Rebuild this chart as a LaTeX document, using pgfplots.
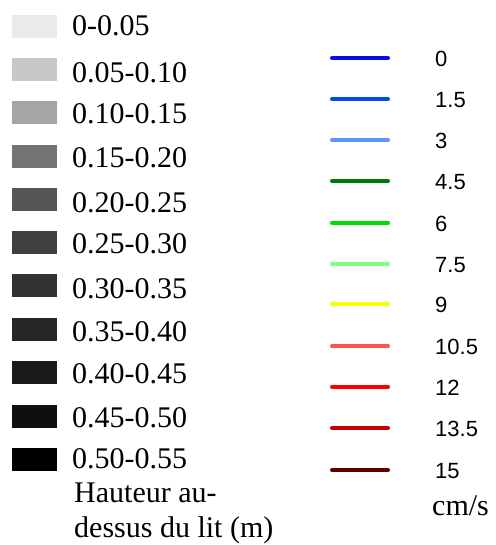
\documentclass[border=0pt]{standalone}
\usepackage{pgfplots}
\pgfplotsset{compat=1.18}
\usepackage{fontspec}
\setmainfont{Liberation Serif}
\newfontfamily\arial{Liberation Sans}
\definecolor{g1}{RGB}{234,234,234}
\definecolor{g2}{RGB}{200,200,200}
\definecolor{g3}{RGB}{165,165,165}
\definecolor{g4}{RGB}{115,115,115}
\definecolor{g5}{RGB}{85,85,85}
\definecolor{g6}{RGB}{64,64,64}
\definecolor{g7}{RGB}{50,50,50}
\definecolor{g8}{RGB}{38,38,38}
\definecolor{g9}{RGB}{26,26,26}
\definecolor{g10}{RGB}{15,15,15}
\definecolor{g11}{RGB}{0,0,0}
\definecolor{c0}{RGB}{10,10,235}
\definecolor{c1}{RGB}{0,76,220}
\definecolor{c2}{RGB}{90,150,255}
\definecolor{c3}{RGB}{0,120,0}
\definecolor{c4}{RGB}{0,220,0}
\definecolor{c5}{RGB}{128,255,128}
\definecolor{c6}{RGB}{255,255,0}
\definecolor{c7}{RGB}{255,80,80}
\definecolor{c8}{RGB}{255,0,0}
\definecolor{c9}{RGB}{190,0,0}
\definecolor{c10}{RGB}{90,0,0}
\begin{document}
\begin{tikzpicture}
\begin{axis}[
  width=495pt, height=545pt, scale only axis,
  xmin=0, xmax=495, ymin=0, ymax=545, y dir=reverse,
  hide axis, clip=false,
]
\path (rel axis cs:0,0) rectangle (rel axis cs:1,1);
% grey patches (depth classes)
\addplot[g1, line width=23pt, line cap=butt] coordinates {(12,26.5) (57,26.5)};
\addplot[g2, line width=23pt, line cap=butt] coordinates {(12,69.5) (57,69.5)};
\addplot[g3, line width=23pt, line cap=butt] coordinates {(12,113) (57,113)};
\addplot[g4, line width=23pt, line cap=butt] coordinates {(12,156.5) (57,156.5)};
\addplot[g5, line width=23pt, line cap=butt] coordinates {(12,199.5) (57,199.5)};
\addplot[g6, line width=23pt, line cap=butt] coordinates {(12,242) (57,242)};
\addplot[g7, line width=23pt, line cap=butt] coordinates {(12,285.5) (57,285.5)};
\addplot[g8, line width=23pt, line cap=butt] coordinates {(12,329.5) (57,329.5)};
\addplot[g9, line width=23pt, line cap=butt] coordinates {(12,372.5) (57,372.5)};
\addplot[g10, line width=23pt, line cap=butt] coordinates {(12,416) (57,416)};
\addplot[g11, line width=23pt, line cap=butt] coordinates {(12,459) (57,459)};
% velocity lines
\addplot[c0, line width=4pt, line cap=round] coordinates {(332,58.3) (388,58.3)};
\addplot[c1, line width=4pt, line cap=round] coordinates {(332,99) (388,99)};
\addplot[c2, line width=4pt, line cap=round] coordinates {(332,140.3) (388,140.3)};
\addplot[c3, line width=4pt, line cap=round] coordinates {(332,181) (388,181)};
\addplot[c4, line width=4pt, line cap=round] coordinates {(332,222.7) (388,222.7)};
\addplot[c5, line width=4pt, line cap=round] coordinates {(332,264) (388,264)};
\addplot[c6, line width=4pt, line cap=round] coordinates {(332,304.3) (388,304.3)};
\addplot[c7, line width=4pt, line cap=round] coordinates {(332,346.3) (388,346.3)};
\addplot[c8, line width=4pt, line cap=round] coordinates {(332,386.7) (388,386.7)};
\addplot[c9, line width=4pt, line cap=round] coordinates {(332,428) (388,428)};
\addplot[c10, line width=4pt, line cap=round] coordinates {(332,470) (388,470)};
% left labels
\begin{scope}[every node/.style={anchor=base west, inner sep=0pt, font=\fontsize{30}{35}\selectfont}]
\node at (axis cs:72,36) {0-0.05};
\node at (axis cs:72,83) {0.05-0.10};
\node at (axis cs:72,124) {0.10-0.15};
\node at (axis cs:72,168) {0.15-0.20};
\node at (axis cs:72,212) {0.20-0.25};
\node at (axis cs:72,253) {0.25-0.30};
\node at (axis cs:72,298) {0.30-0.35};
\node at (axis cs:72,341) {0.35-0.40};
\node at (axis cs:72,383) {0.40-0.45};
\node at (axis cs:72,427) {0.45-0.50};
\node at (axis cs:72,468) {0.50-0.55};
\node at (axis cs:74,502) {Hauteur au-};
\node at (axis cs:74,537) {dessus du lit (m)};
\node at (axis cs:432,515) {cm/s};
\end{scope}
% right labels
\begin{scope}[every node/.style={anchor=base west, inner sep=0pt, font=\arial\fontsize{22}{26}\selectfont}]
\node at (axis cs:435,66.8) {0};
\node at (axis cs:435,107.5) {1.5};
\node at (axis cs:435,148.8) {3};
\node at (axis cs:435,189.5) {4.5};
\node at (axis cs:435,231.2) {6};
\node at (axis cs:435,272.5) {7.5};
\node at (axis cs:435,312.8) {9};
\node at (axis cs:435,354.8) {10.5};
\node at (axis cs:435,395.2) {12};
\node at (axis cs:435,436.5) {13.5};
\node at (axis cs:435,478.5) {15};
\end{scope}
\end{axis}
\end{tikzpicture}
\end{document}
